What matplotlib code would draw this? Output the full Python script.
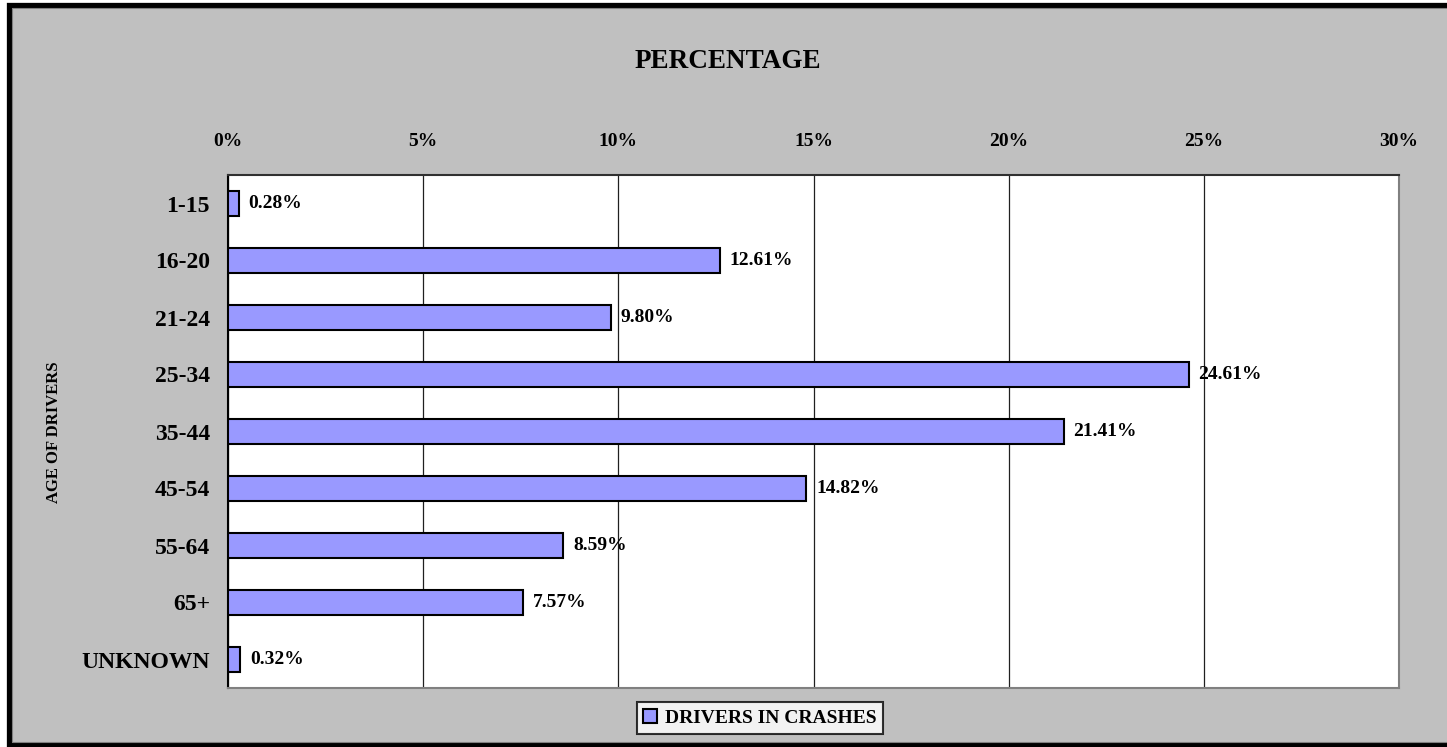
import matplotlib
matplotlib.use("Agg")
import matplotlib.pyplot as plt
from matplotlib.patches import Rectangle
from matplotlib.ticker import FuncFormatter

categories = ["1-15", "16-20", "21-24", "25-34", "35-44", "45-54", "55-64", "65+", "UNKNOWN"]
values = [0.28, 12.61, 9.80, 24.61, 21.41, 14.82, 8.59, 7.57, 0.32]
xticks = [0, 5, 10, 15, 20, 25, 30]
series_name = "DRIVERS IN CRASHES"
title = "PERCENTAGE"
ylabel = "AGE OF DRIVERS"

plt.rcParams['font.family'] = ['Liberation Serif', 'DejaVu Serif']
plt.rcParams['font.weight'] = 'bold'

W, H = 1447, 747
fig = plt.figure(figsize=(W / 100, H / 100), dpi=100, facecolor='white')

def fx(px):
    return px / W

def fy(py):
    return 1 - py / H

# gray chart background with black frame
bg = Rectangle((fx(8.5), fy(744.5)), fx(1460) - fx(8.5), fy(4.5) - fy(744.5),
               transform=fig.transFigure, facecolor='#C0C0C0', edgecolor='black',
               linewidth=3.8, zorder=-2)
fig.patches.append(bg)
inner = Rectangle((fx(11.5), fy(741.5)), fx(1460) - fx(11.5), fy(7.5) - fy(741.5),
                  transform=fig.transFigure, facecolor='none', edgecolor='#808080',
                  linewidth=0.8, zorder=-1)
fig.patches.append(inner)

left, right, top, bottom = 228, 1399, 175, 688
ax = fig.add_axes([fx(left), fy(bottom), fx(right) - fx(left), fy(top) - fy(bottom)])
ax.set_zorder(1)
ax.set_facecolor('white')

ypos = list(range(len(categories)))
ax.barh(ypos, values, height=0.455, color='#9999FF', edgecolor='black', linewidth=1.5, zorder=3)
ax.set_ylim(len(categories) - 0.5, -0.5)
ax.set_xlim(0, 30)
ax.set_yticks(ypos)
ax.set_yticklabels(categories, fontsize=17, fontweight='bold')
ax.set_xticks(xticks)
ax.xaxis.set_major_formatter(FuncFormatter(lambda v, p: f"{int(v)}%"))
ax.xaxis.tick_top()
ax.tick_params(axis='x', length=0, pad=18, labelsize=14)
ax.tick_params(axis='y', length=0, pad=13)
for lab in ax.get_xticklabels():
    lab.set_fontweight('bold')

ax.grid(axis='x', color='#202020', linewidth=0.9, zorder=1)
ax.set_axisbelow(True)

for s in ['right', 'bottom']:
    ax.spines[s].set_color('#808080')
    ax.spines[s].set_linewidth(1.5)
ax.spines['top'].set_color('#303030')
ax.spines['top'].set_linewidth(1.5)
ax.spines['left'].set_color('black')
ax.spines['left'].set_linewidth(1.5)

for y, v in zip(ypos, values):
    ax.annotate(f"{v:.2f}%", (v, y), xytext=(7, 0), textcoords='offset points',
                ha='left', va='center', fontsize=14, fontweight='bold', zorder=4)

fig.text(fx(728), fy(62), title, ha='center', va='center', fontsize=19.5, fontweight='bold')
fig.text(fx(54), fy(432), ylabel, ha='center', va='center', rotation=90, fontsize=12, fontweight='bold')

handle = Rectangle((0, 0), 1, 1, facecolor='#9999FF', edgecolor='black', linewidth=1.5)
leg = fig.legend([handle], [series_name], loc='center', bbox_to_anchor=(fx(760), fy(718)),
                 prop={'size': 14, 'weight': 'bold'}, frameon=True, fancybox=False,
                 handlelength=0.7, handleheight=0.7, handletextpad=0.4,
                 borderpad=0.35, borderaxespad=0)
leg.get_frame().set_edgecolor('black')
leg.get_frame().set_linewidth(1.5)
leg.get_frame().set_facecolor('white')

fig.savefig("out.png", dpi=100, facecolor=fig.get_facecolor())
